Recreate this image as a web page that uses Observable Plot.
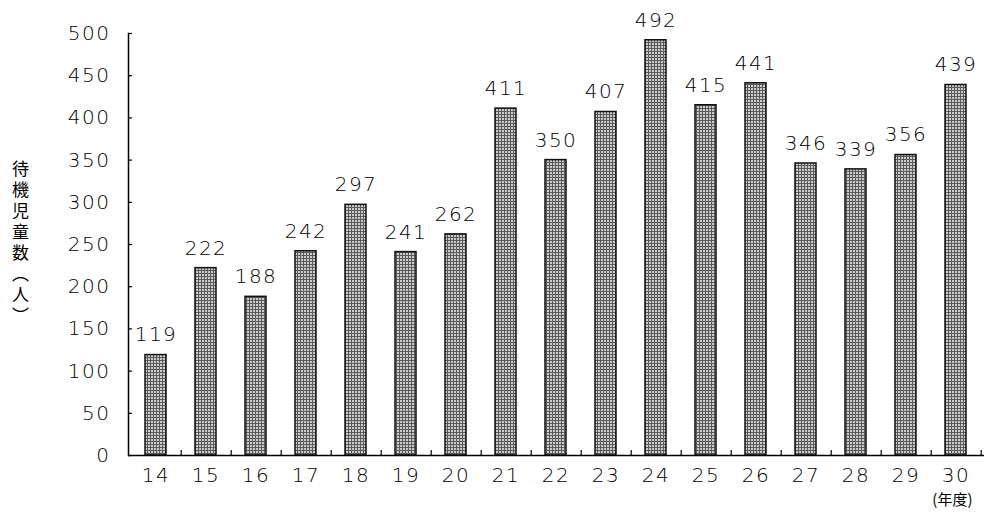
<!DOCTYPE html>
<html><head><meta charset="utf-8">
<script src="https://cdn.jsdelivr.net/npm/d3@7"></script>
<script src="https://cdn.jsdelivr.net/npm/@observablehq/plot@0.6"></script>
<style>body{margin:0;background:#fff}</style>
</head><body><div id="c"></div>
<script>
const years = ["14","15","16","17","18","19","20","21","22","23","24","25","26","27","28","29","30"];
const counts = [119,222,188,242,297,241,262,411,350,407,492,415,441,346,339,356,439];
const yTicks = [0,50,100,150,200,250,300,350,400,450,500];
const yLabel = "待機児童数︵人︶";
const xUnit = "(年度)";
const data = years.map((y, i) => ({year: y, count: counts[i]}));
const font = "DejaVu Sans";

const chart = Plot.plot({
  width: 987, height: 518,
  marginLeft: 128, marginRight: 3, marginTop: 33, marginBottom: 63,
  style: {fontFamily: font, fontSize: "20px", fontWeight: 200, background: "white", color: "black"},
  x: {domain: years, paddingInner: 0.58, paddingOuter: 0.29},
  y: {domain: [0, 500]},
  marks: [
    Plot.barY(data, {x: "year", y: "count", fill: "url(#chk)", stroke: "#111", strokeWidth: 1.5}),
    Plot.ruleY([0], {stroke: "black", strokeWidth: 1.5}),
    Plot.frame({anchor: "left", stroke: "black", strokeWidth: 1.5}),
    Plot.ruleX(years, {x: d => d, y1: 0, y2: 6, dx: 25.2, stroke: "black", strokeWidth: 1.2}),
    Plot.axisY({ticks: yTicks, tickSize: -4, tickPadding: 22, label: null, fontSize: 20, strokeWidth: 1.2}),
    Plot.axisX({tickSize: 0, tickPadding: 12, label: null, fontSize: 20}),
    Plot.text(data, {x: "year", y: "count", text: d => String(d.count), dy: -20, lineAnchor: "middle",
      fill: "black", stroke: "white", strokeWidth: 6, fontSize: 20}),
    Plot.text([xUnit], {frameAnchor: "bottom-right", dx: -12, dy: 45, lineAnchor: "middle", fontSize: 15,
      fontWeight: 400, fontFamily: "Noto Sans CJK JP"}),
    Plot.text([yLabel], {frameAnchor: "left", dx: -108, dy: -6, textAnchor: "middle", fontSize: 17,
      fontWeight: 400, fontFamily: "Noto Sans CJK JP", className: "ylab"})
  ]
});
d3.select(chart).insert("defs", ":first-child").html(
  '<pattern id="chk" width="3" height="3" patternUnits="userSpaceOnUse">' +
  '<rect width="3" height="3" fill="#5a5a5a"/>' +
  '<rect x="1" y="1" width="2" height="2" fill="#cccccc"/></pattern>');
d3.select(chart).selectAll("text").filter(function() { return /^\d+$/.test(this.textContent); })
  .style("letter-spacing", "1.5px");
d3.select(chart).selectAll(".ylab text").style("writing-mode", "vertical-rl").style("letter-spacing", "4px");
document.getElementById("c").appendChild(chart);
</script>
</body></html>
